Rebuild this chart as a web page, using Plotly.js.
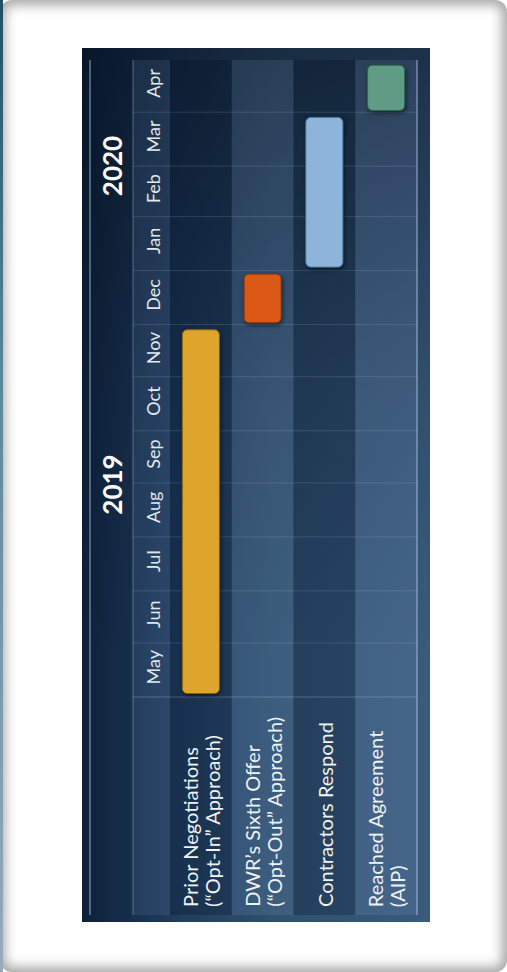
<!DOCTYPE html>
<html>
<head>
<meta charset="utf-8">
<script src="https://cdn.plot.ly/plotly-3.0.1.min.js"></script>
<style>
  html, body { margin:0; padding:0; }
  body { width:507px; height:972px; background:#ffffff; overflow:hidden; position:relative; }
  #frame { position:absolute; left:0; top:0; width:507px; height:972px; border-radius:12px;
           box-shadow: inset 0 0 12px 5px rgba(60,60,60,0.45); }
  #edge { position:absolute; left:0; top:0; width:3px; height:972px; background:linear-gradient(to bottom,#1f5068,#5a8a9a 40%,#9ab); }
  #slide { position:absolute; left:82px; top:48px; width:348px; height:874px;
    background:
      linear-gradient(to bottom, rgba(4,14,28,0.55) 0%, rgba(4,14,28,0.15) 40%, rgba(4,14,28,0) 70%),
      linear-gradient(to right, #0d2038 0%, #1f3a5b 25%, #30506f 55%, #3a5a7e 100%); }
  #chart { position:absolute; left:0; top:0; width:507px; height:972px; }
  #chart .barlayer .point path { filter: drop-shadow(1px 2px 2px rgba(0,0,0,0.55)); }
</style>
</head>
<body>
<div id="frame"></div>
<div id="edge"></div>
<div id="slide"></div>
<div id="chart"></div>
<script>
// ---- data ----
const tasks = ["Prior Negotiations<br>(“Opt-In” Approach)",
               "DWR’s Sixth Offer<br>(“Opt-Out” Approach)",
               "Contractors Respond",
               "Reached Agreement<br>(AIP)"];
const startDates = ["2019-05-03", "2019-12-02", "2020-01-03", "2020-04-02"];
const endDates   = ["2019-11-28", "2019-12-30", "2020-03-29", "2020-04-28"];
const barColors  = ["#dea52b", "#db5917", "#8db4db", "#5e9c84"];
const barEdges   = ["#8c6410", "#8a3208", "#4f7aa3", "#2f6650"];
const monthStarts = ["2019-05-01","2019-06-01","2019-07-01","2019-08-01","2019-09-01","2019-10-01",
                     "2019-11-01","2019-12-01","2020-01-01","2020-02-01","2020-03-01","2020-04-01","2020-05-01"];
const years = ["2019", "2020"];
const yearStarts = ["2019-05-01", "2020-01-01"];
const yearEnds   = ["2020-01-01", "2020-05-01"];

// ---- geometry helpers (layout only) ----
const W = 507, H = 972;
const M = {l:170, r:90, t:60, b:275};
const pw = W - M.l - M.r, ph = H - M.t - M.b;
const px = x => (x - M.l) / pw;          // pixel x -> paper x
const py = y => (H - M.b - y) / ph;      // pixel y -> paper y

const xIdx = tasks.map((_, i) => i);
const durations = startDates.map((s, i) => Date.parse(endDates[i]) - Date.parse(s));

const bars = {
  type: 'bar', orientation: 'v',
  x: xIdx, base: startDates, y: durations,
  width: 0.6,
  marker: { color: barColors, cornerradius: 5, line: { color: barEdges, width: 1 } },
  hoverinfo: 'skip', showlegend: false
};

const shapes = [];
const bandBottom = py(915);
// month column band
shapes.push({type:'rect', layer:'below', xref:'paper', yref:'paper', x0:px(133), x1:0, y0:bandBottom, y1:1,
             fillcolor:'rgba(120,160,205,0.13)', line:{width:0}});
// row bands
xIdx.forEach(i => {
  shapes.push({type:'rect', layer:'below', xref:'x', yref:'paper', x0:i-0.5, x1:i+0.5, y0:bandBottom, y1:1,
               fillcolor: i % 2 === 0 ? 'rgba(0,14,34,0.26)' : 'rgba(140,180,220,0.14)', line:{width:0}});
});
// month grid lines
monthStarts.slice(1, -1).forEach(d => {
  shapes.push({type:'line', layer:'below', xref:'paper', yref:'y', x0:px(133), x1:1, y0:d, y1:d,
               line:{color:'rgba(190,215,240,0.16)', width:1}});
});
// bottom of month area
shapes.push({type:'line', layer:'below', xref:'paper', yref:'paper', x0:px(133), x1:1, y0:0, y1:0,
             line:{color:'rgba(190,215,240,0.28)', width:1}});
// vertical frame lines
[90, 133, 417].forEach((xp, k) => {
  shapes.push({type:'line', layer:'below', xref:'paper', yref:'paper', x0:px(xp), x1:px(xp), y0:bandBottom, y1:1,
               line:{color: k === 1 ? 'rgba(170,200,230,0.35)' : 'rgba(175,205,235,0.7)', width:1.2}});
});

const annotations = [];
years.forEach((yr, k) => {
  const mid = new Date((Date.parse(yearStarts[k]) + Date.parse(yearEnds[k])) / 2).toISOString().slice(0, 10);
  annotations.push({text: yr, xref:'paper', yref:'y', x:px(112), y:mid, xanchor:'center', yanchor:'middle',
                    showarrow:false, textangle:-90,
                    font:{family:'Lato', size:26, color:'#ffffff', weight:'bold'}});
});
tasks.forEach((t, i) => {
  const lines = t.split('<br>');
  lines.forEach((ln, j) => {
    annotations.push({text: ln, xref:'x', yref:'paper', x:i, y:py(909), yanchor:'bottom', xanchor:'center',
                      xshift: (j - (lines.length - 1) / 2) * 22,
                      showarrow:false, textangle:-90,
                      font:{family:'Lato', size:20, color:'#eef3f8'}});
  });
});

const layout = {
  width: W, height: H, margin: M,
  paper_bgcolor: 'rgba(0,0,0,0)', plot_bgcolor: 'rgba(0,0,0,0)',
  showlegend: false, barmode: 'overlay',
  xaxis: { range:[-0.5, 3.5], showticklabels:false, showgrid:false, zeroline:false, showline:false, fixedrange:true },
  yaxis: { type:'date', range:[monthStarts[0], monthStarts[monthStarts.length-1]], autorange:false,
           tick0: monthStarts[0], dtick:'M1', ticklabelmode:'period', tickformat:'%b', tickangle:-90,
           showgrid:false, zeroline:false, showline:false, ticks:'', ticklabelstandoff: 5,
           tickfont:{family:'Lato', size:18, color:'#e2e9f1'}, fixedrange:true },
  shapes: shapes,
  annotations: annotations
};

Plotly.newPlot('chart', [bars], layout, {displayModeBar:false, staticPlot:true});
</script>
</body>
</html>
